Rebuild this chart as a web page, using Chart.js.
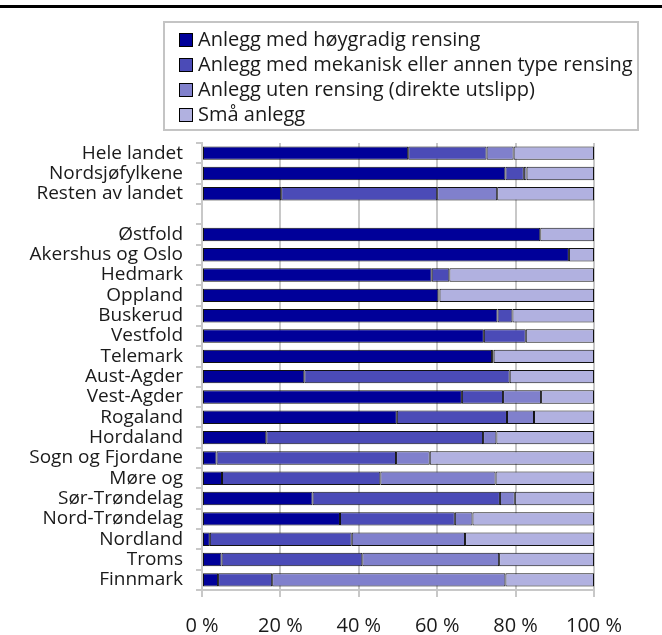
<!DOCTYPE html>
<html>
<head>
<meta charset="utf-8">
<script src="https://cdn.jsdelivr.net/npm/chart.js@4.4.0/dist/chart.umd.min.js"></script>
<style>
  body { margin: 0; background: #fff; font-family: "Open Sans", sans-serif; }
  #wrap { position: relative; width: 662px; height: 635px; }
  #topline { position: absolute; left: 0; top: 5px; width: 662px; height: 3px; background: #000; }
  #legend { position: absolute; left: 163px; top: 21px; width: 476px; height: 110px;
            box-sizing: border-box; border: 2px solid #c4c4c4; padding: 3px 0 0 14px; }
  .item { height: 25px; line-height: 25px; font-size: 20px; color: #1a1a1a; white-space: nowrap; }
  .box { display: inline-block; width: 12px; height: 12px; border: 1px solid #000;
         vertical-align: -1px; margin-right: 5px; }
  #c { position: absolute; left: 0; top: 0; }
</style>
</head>
<body>
<div id="wrap">
  <canvas id="c" width="662" height="635"></canvas>
  <div id="topline"></div>
  <div id="legend"></div>
</div>
<script>
var categories = ['Hele landet', 'Nordsjøfylkene', 'Resten av landet', '', 'Østfold', 'Akershus og Oslo',
    'Hedmark', 'Oppland', 'Buskerud', 'Vestfold', 'Telemark', 'Aust-Agder', 'Vest-Agder', 'Rogaland',
    'Hordaland', 'Sogn og Fjordane', 'Møre og', 'Sør-Trøndelag', 'Nord-Trøndelag', 'Nordland', 'Troms', 'Finnmark'];

// share of population (%) per type of plant
var hoygradig = [52.6, 77.4, 20.2, null, 86.3, 93.6, 58.6, 60.3, 75.4, 71.9, 74.0, 26.1, 66.3, 49.7, 16.4, 3.7, 5.1, 28.2, 35.2, 2.0, 5.0, 4.1];
var mekanisk = [20.0, 4.7, 39.8, null, 0, 0, 4.5, 0.3, 3.8, 10.7, 0.4, 52.4, 10.5, 28.1, 55.3, 45.8, 40.4, 47.8, 29.3, 36.2, 35.9, 13.8];
var utenRensing = [6.9, 0.7, 15.3, null, 0, 0, 0, 0, 0, 0, 0, 0, 9.7, 6.9, 3.4, 8.6, 29.4, 3.8, 4.5, 28.9, 34.9, 59.5];
var smaAnlegg = [20.5, 17.2, 24.7, null, 13.7, 6.4, 36.9, 39.4, 20.8, 17.4, 25.6, 21.5, 13.5, 15.3, 24.9, 41.9, 25.1, 20.2, 31.0, 32.9, 24.2, 22.6];

var xTicks = [0, 20, 40, 60, 80, 100];

var seriesNames = ['Anlegg med høygradig rensing', 'Anlegg med mekanisk eller annen type rensing',
    'Anlegg uten rensing (direkte utslipp)', 'Små anlegg'];
var seriesColors = ['#000099', '#4b4bb7', '#8080cc', '#b1b1e0'];
var seriesData = [hoygradig, mekanisk, utenRensing, smaAnlegg];

var datasets = seriesData.map(function (d, i) {
    return {
        label: seriesNames[i],
        data: d,
        backgroundColor: seriesColors[i],
        borderColor: '#111',
        borderWidth: 1,
        borderSkipped: false,
        barPercentage: 1,
        categoryPercentage: 0.66
    };
});

var legendEl = document.getElementById('legend');
datasets.forEach(function (ds) {
    var row = document.createElement('div');
    row.className = 'item';
    row.innerHTML = '<span class="box" style="background:' + ds.backgroundColor + '"></span>' + ds.label;
    legendEl.appendChild(row);
});

var ctx = document.getElementById('c').getContext('2d');
var chart = new Chart(ctx, {
    type: 'bar',
    data: {
        labels: categories,
        datasets: datasets
    },
    options: {
        indexAxis: 'y',
        responsive: false,
        animation: false,
        layout: {
            padding: { top: 143, right: 68, left: 0, bottom: 0 }
        },
        scales: {
            x: {
                stacked: true,
                min: 0,
                max: 100,
                afterBuildTicks: function (scale) {
                    scale.ticks = xTicks.map(function (v) { return { value: v }; });
                },
                afterFit: function (scale) { scale.height = 45; },
                ticks: {
                    font: { family: 'Open Sans', size: 20 },
                    color: '#1a1a1a',
                    padding: 17,
                    maxRotation: 0,
                    callback: function (v) { return v + ' %'; }
                },
                grid: { color: '#c8c8c8', lineWidth: 2, tickLength: 7 },
                border: { display: true, color: '#c8c8c8', width: 2 }
            },
            y: {
                stacked: true,
                afterFit: function (scale) { scale.width = 202; },
                ticks: {
                    font: { family: 'Open Sans', size: 19 },
                    color: '#1a1a1a',
                    padding: 13,
                    autoSkip: false
                },
                grid: { drawOnChartArea: false, color: '#c8c8c8', lineWidth: 2, tickLength: 6 },
                border: { display: true, color: '#c8c8c8', width: 2 }
            }
        },
        plugins: {
            legend: { display: false },
            tooltip: { enabled: false }
        }
    }
});
</script>
</body>
</html>
